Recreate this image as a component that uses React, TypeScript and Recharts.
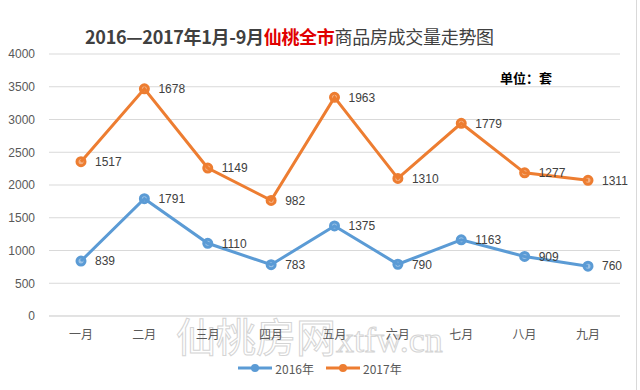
import { Area, CartesianGrid, ComposedChart, LabelList, XAxis, YAxis } from 'recharts';

const months = ['一月', '二月', '三月', '四月', '五月', '六月', '七月', '八月', '九月'];
const sales2016 = [839, 1791, 1110, 783, 1375, 790, 1163, 909, 760];
const sales2017 = [1517, 1678, 1149, 982, 1963, 1310, 1779, 1277, 1311];
const yTicks = [0, 500, 1000, 1500, 2000, 2500, 3000, 3500, 4000];

const BLUE = '#5b9bd5';
const ORANGE = '#ed7d31';
const FONT = '"Noto Sans CJK SC", "Liberation Sans", sans-serif';
const NUM_FONT = '"Liberation Sans", sans-serif';

const data = months.map((m, i) => ({ month: m, y2016: sales2016[i], y2017: sales2017[i] }));

function LegendItem({ color, label }: { color: string; label: string }) {
  return (
    <span style={{ display: 'inline-flex', alignItems: 'center', margin: '0 6px' }}>
      <svg width={34} height={10}>
        <line x1={0} y1={5} x2={34} y2={5} stroke={color} strokeWidth={3} />
        <circle cx={17} cy={5} r={4} fill={color} />
      </svg>
      <span style={{ marginLeft: 3 }}>{label}</span>
    </span>
  );
}

export default function App() {
  return (
    <div style={{ position: 'absolute', left: 0, top: 0, width: 640, height: 390, background: '#fff', fontFamily: FONT }}>
      <div style={{ position: 'absolute', left: 0, width: 636, height: 390, borderRight: '1px solid #d9d9d9' }} />
      <div style={{ position: 'absolute', top: 23, left: 85, fontSize: 18, color: '#404040', whiteSpace: 'nowrap', letterSpacing: -0.3 }}>
        <b>2016—2017年1月-9月</b>
        <b style={{ color: '#e00000' }}>仙桃全市</b>
        <span>商品房成交量走势图</span>
      </div>
      <div style={{ position: 'absolute', top: 68, left: 500, fontSize: 13, fontWeight: 'bold', color: '#000' }}>单位：套</div>
      {/* watermark, drawn under the chart */}
      <svg style={{ position: 'absolute', left: 0, top: 0 }} width={640} height={390}>
        <text x={176} y={352} fontSize={40} fill="none" stroke="#d4d4d4" strokeWidth={1} fontFamily={FONT}>
          仙桃房网
          <tspan fontFamily='"Liberation Serif", serif' fontSize={36}>xtfw.cn</tspan>
        </text>
      </svg>
      <div style={{ position: 'absolute', left: 0, top: 0 }}>
        <ComposedChart width={640} height={390} data={data} margin={{ top: 54, right: 20, left: 0, bottom: 44 }}>
          <CartesianGrid vertical={false} stroke="#d9d9d9" />
          <XAxis
            dataKey="month"
            tickLine={false}
            axisLine={{ stroke: '#d9d9d9' }}
            padding={{ left: 32, right: 32 }}
            tick={{ fill: '#595959', fontSize: 12, fontFamily: FONT }}
            tickMargin={8}
          />
          <YAxis
            domain={[0, 4000]}
            ticks={yTicks}
            width={49}
            axisLine={false}
            tickLine={false}
            tick={{ fill: '#595959', fontSize: 12, fontFamily: NUM_FONT }}
            tickMargin={8}
          />
          {/* stacked: 2017 line sits on top of 2016, labels show raw values */}
          <Area
            type="linear"
            dataKey="y2016"
            stackId="s"
            stroke={BLUE}
            strokeWidth={3}
            fill="none"
            dot={{ r: 4, fill: BLUE, stroke: BLUE }}
            isAnimationActive={false}
          >
            <LabelList dataKey="y2016" position="right" offset={14} fill="#404040" fontSize={12} fontFamily={NUM_FONT} />
          </Area>
          <Area
            type="linear"
            dataKey="y2017"
            stackId="s"
            stroke={ORANGE}
            strokeWidth={3}
            fill="none"
            dot={{ r: 4, fill: ORANGE, stroke: ORANGE }}
            isAnimationActive={false}
          >
            <LabelList dataKey="y2017" position="right" offset={14} fill="#404040" fontSize={12} fontFamily={NUM_FONT} />
          </Area>
        </ComposedChart>
      </div>
      <div style={{ position: 'absolute', top: 359, left: 0, width: 640, textAlign: 'center', fontSize: 12, color: '#595959' }}>
        <LegendItem color={BLUE} label="2016年" />
        <LegendItem color={ORANGE} label="2017年" />
      </div>
    </div>
  );
}
